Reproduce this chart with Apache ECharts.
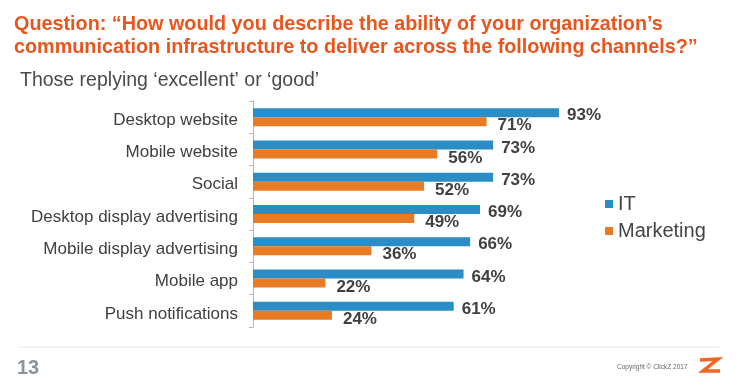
<!DOCTYPE html>
<html><head><meta charset="utf-8">
<script src="https://cdn.jsdelivr.net/npm/echarts@6/dist/echarts.min.js"></script>
<style>html,body{margin:0;padding:0;background:#fff}#c{width:747px;height:390px}</style>
</head><body><div id="c"></div>
<script>
const categories = ['Desktop website','Mobile website','Social','Desktop display advertising','Mobile display advertising','Mobile app','Push notifications'];
const itValues = [93,73,73,69,66,64,61];
const marketingValues = [71,56,52,49,36,22,24];
const seriesNames = ['IT','Marketing'];
const FONT = '"Liberation Sans", Arial, sans-serif';
const chart = echarts.init(document.getElementById('c'), null, {renderer:'canvas'});
chart.setOption({
  backgroundColor:'#fff',
  animation:false,
  textStyle:{fontFamily:FONT},
  title:[
    {text:'Question: \u201cHow would you describe the ability of your organization\u2019s\ncommunication infrastructure to deliver across the following channels?\u201d',
     left:9, top:8, textStyle:{fontFamily:FONT,fontSize:19.8,fontWeight:'bold',color:'#E8561E',lineHeight:23}},
    {text:'Those replying \u2018excellent\u2019 or \u2018good\u2019', left:15, top:66,
     textStyle:{fontFamily:FONT,fontSize:19.5,fontWeight:'normal',color:'#4a4a4a'}}
  ],
  legend:{orient:'vertical', left:600, top:189, itemWidth:8, itemHeight:8, itemGap:7, icon:'rect',
    textStyle:{fontFamily:FONT,fontSize:20,color:'#444'}, data:seriesNames},
  grid:{left:253, top:101, width:329, height:226, containLabel:false},
  xAxis:{type:'value', min:0, max:100, show:false},
  yAxis:{type:'category', data:categories, inverse:true,
    axisLine:{show:true,lineStyle:{color:'#b8b8b8'}},
    axisTick:{show:true,length:4,lineStyle:{color:'#b8b8b8'}},
    axisLabel:{margin:15, formatter:function(v){return '{a|'+v+'}';},
      rich:{a:{fontFamily:FONT,fontSize:17,color:'#404040',padding:[6,0,0,0]}}}},
  series:[
    {name:seriesNames[0], type:'bar', data:itValues, barWidth:9, barGap:'0%', barCategoryGap:'44%',
     itemStyle:{color:'#2A8DC5'},
     label:{show:true,position:'right',formatter:'{c}%',fontFamily:FONT,fontSize:17,fontWeight:'bold',color:'#404040',offset:[3,3],distance:5}},
    {name:seriesNames[1], type:'bar', data:marketingValues, barWidth:9,
     itemStyle:{color:'#E87B23'},
     label:{show:true,position:'right',formatter:'{c}%',fontFamily:FONT,fontSize:17,fontWeight:'bold',color:'#404040',offset:[6,4],distance:5}}
  ],
  graphic:[
    {type:'line', shape:{x1:18,y1:347,x2:719,y2:347}, style:{stroke:'#e4e8ea',lineWidth:1}},
    {type:'text', left:17, top:358, style:{text:'13',font:'bold 20px '+FONT,fill:'#8a959b'}},
    {type:'text', left:617, top:364, style:{text:'Copyright \u00a9 ClickZ 2017',font:'6.5px '+FONT,fill:'#666'}},
    {type:'polyline', shape:{points:[[700,360],[718,359],[703,371],[720,371]]}, style:{stroke:'#F26522',lineWidth:3.5,fill:null,lineJoin:'miter'}}
  ]
});
</script></body></html>
